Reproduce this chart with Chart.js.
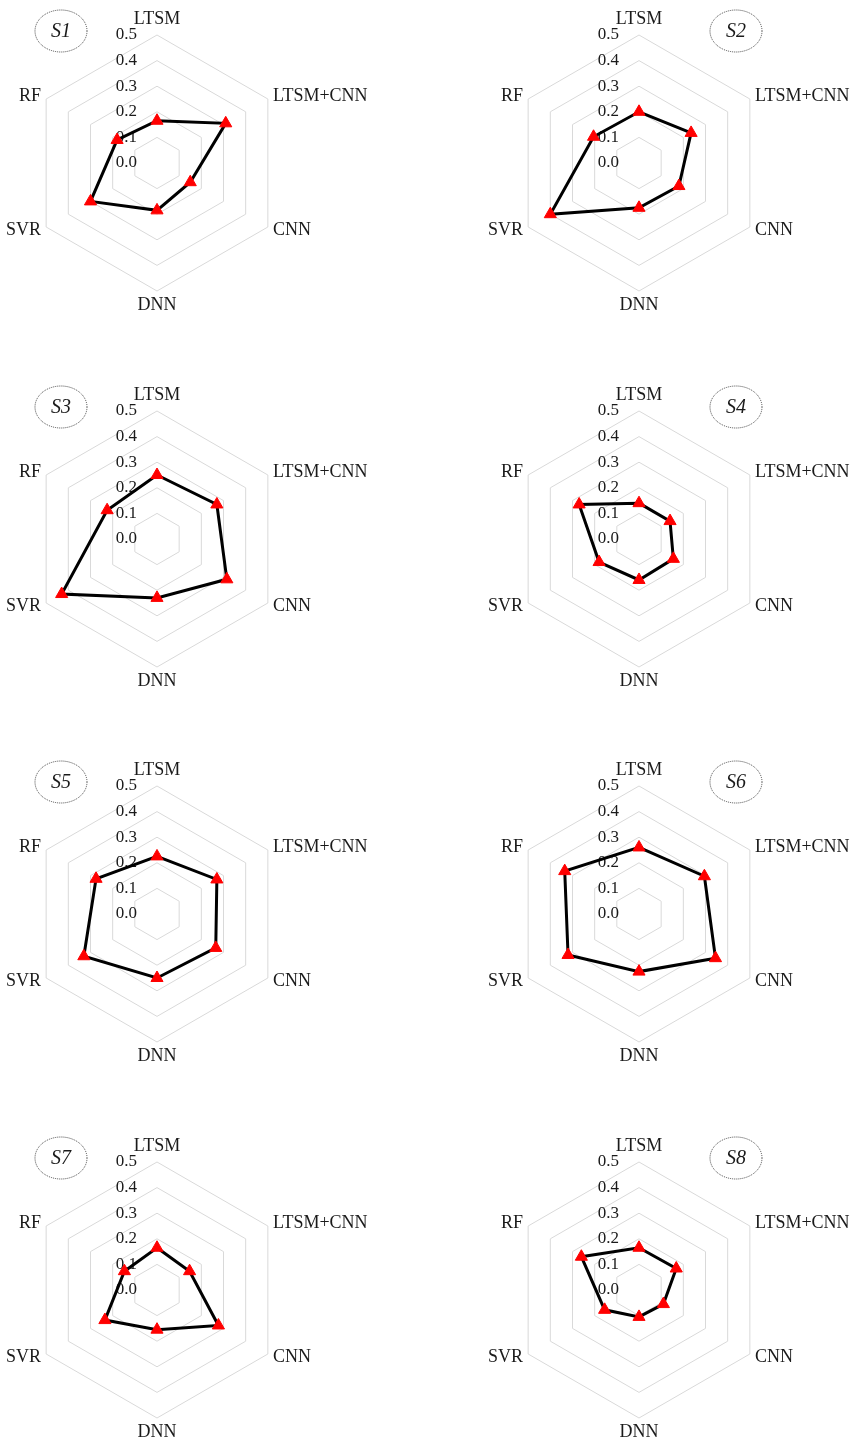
<!DOCTYPE html>
<html>
<head>
<meta charset="utf-8">
<script src="https://cdn.jsdelivr.net/npm/chart.js@4.4.1/dist/chart.umd.min.js"></script>
<style>
  html, body { margin: 0; padding: 0; background: #ffffff; }
  body { position: relative; width: 857px; height: 1444px; overflow: hidden; }
  canvas { position: absolute; }
</style>
</head>
<body>
<script>
// Model names on the six radar spokes (clockwise from the top)
const AXIS_LABELS = ['LTSM', 'LTSM+CNN', 'CNN', 'DNN', 'SVR', 'RF'];

// Radial ticks
const TICK_VALUES = [0, 0.1, 0.2, 0.3, 0.4, 0.5];
const TICK_LABELS = ['0.0', '0.1', '0.2', '0.3', '0.4', '0.5'];

// Panel names
const PANEL_NAMES = ['S1', 'S2', 'S3', 'S4', 'S5', 'S6', 'S7', 'S8'];

// Error values per model, one series per panel (order follows AXIS_LABELS)
const S1_VALUES = [0.165, 0.31, 0.15, 0.185, 0.30, 0.18];
const S2_VALUES = [0.20, 0.235, 0.18, 0.175, 0.40, 0.205];
const S3_VALUES = [0.25, 0.27, 0.315, 0.23, 0.43, 0.225];
const S4_VALUES = [0.14, 0.14, 0.155, 0.16, 0.18, 0.27];
const S5_VALUES = [0.225, 0.27, 0.265, 0.25, 0.33, 0.275];
const S6_VALUES = [0.26, 0.295, 0.345, 0.225, 0.32, 0.335];
const S7_VALUES = [0.165, 0.147, 0.277, 0.155, 0.235, 0.147];
const S8_VALUES = [0.165, 0.168, 0.11, 0.105, 0.155, 0.26];

const PANEL_VALUES = [S1_VALUES, S2_VALUES, S3_VALUES, S4_VALUES,
                      S5_VALUES, S6_VALUES, S7_VALUES, S8_VALUES];

// ---- page layout ----
const CANVAS_W = 428;
const CANVAS_H = 360;
const CENTER_Y_IN_CANVAS = 160;
const RADIUS = 128;
const BOX = RADIUS * 2 + 1;            // square that holds the radar
const ROW_CENTER_Y = [163, 539, 914, 1290];
const COL_LEFT = [0, 429];
const COL_CENTER_X = [157, 639];
const BADGE_DX = [-96, 97];            // badge offset from the radar centre
const BADGE_DY = -132;

const TEXT_COLOR = '#1a1a1a';
const SERIF = '"Liberation Serif", "Times New Roman", serif';

// Draws tick values, spoke names and the dotted name badge beneath the data line
const panelDecor = {
  id: 'panelDecor',
  beforeDatasetsDraw(chart, args, opts) {
    const s = chart.scales.r;
    const ctx = chart.ctx;
    const R = s.drawingArea;
    const cx = s.xCenter;
    const cy = s.yCenter;
    ctx.save();
    ctx.fillStyle = TEXT_COLOR;
    ctx.textBaseline = 'middle';

    // tick values, right-aligned just left of the vertical spoke
    ctx.font = '17px ' + SERIF;
    ctx.textAlign = 'right';
    TICK_VALUES.forEach((v, i) => {
      ctx.fillText(TICK_LABELS[i], cx - 20, cy - s.getDistanceFromCenterForValue(v));
    });

    // spoke names
    ctx.font = '18px ' + SERIF;
    chart.data.labels.forEach((lab, i) => {
      let extra = 6;
      let align = i < 3 ? 'left' : 'right';
      if (i === 0) { extra = 16; align = 'center'; }
      if (i === 3) { extra = 14; align = 'center'; }
      const p = s.getPointPosition(i, R + extra);
      ctx.textAlign = align;
      ctx.fillText(lab, p.x, p.y);
    });

    // dotted badge with the panel name
    const bx = cx + opts.badgeDx;
    const by = cy + BADGE_DY;
    ctx.beginPath();
    ctx.ellipse(bx, by, 26, 21, 0, 0, Math.PI * 2);
    ctx.setLineDash([1, 1]);
    ctx.lineWidth = 1;
    ctx.strokeStyle = '#444444';
    ctx.stroke();
    ctx.setLineDash([]);
    ctx.font = 'italic 20px ' + SERIF;
    ctx.textAlign = 'center';
    ctx.fillText(opts.name, bx, by + 1);
    ctx.restore();
  }
};

PANEL_VALUES.forEach((values, idx) => {
  const row = Math.floor(idx / 2);
  const col = idx % 2;
  const canvas = document.createElement('canvas');
  canvas.width = CANVAS_W;
  canvas.height = CANVAS_H;
  canvas.style.left = COL_LEFT[col] + 'px';
  canvas.style.top = (ROW_CENTER_Y[row] - CENTER_Y_IN_CANVAS) + 'px';
  canvas.style.width = CANVAS_W + 'px';
  canvas.style.height = CANVAS_H + 'px';
  document.body.appendChild(canvas);

  const padLeft = COL_CENTER_X[col] - COL_LEFT[col] - RADIUS;
  const padTop = CENTER_Y_IN_CANVAS - RADIUS;

  new Chart(canvas, {
    type: 'radar',
    data: {
      labels: AXIS_LABELS,
      datasets: [{
        data: values,
        borderColor: '#000000',
        borderWidth: 3,
        fill: false,
        tension: 0,
        pointStyle: 'triangle',
        pointRadius: 7,
        pointBackgroundColor: '#ff0000',
        pointBorderColor: '#ff0000',
        pointBorderWidth: 1
      }]
    },
    options: {
      responsive: false,
      animation: false,
      devicePixelRatio: 1,
      layout: {
        padding: {
          left: padLeft,
          right: CANVAS_W - padLeft - BOX,
          top: padTop,
          bottom: CANVAS_H - padTop - BOX
        }
      },
      plugins: {
        legend: { display: false },
        tooltip: { enabled: false },
        panelDecor: { name: PANEL_NAMES[idx], badgeDx: BADGE_DX[col] }
      },
      scales: {
        r: {
          min: 0,
          max: 0.5,
          ticks: { stepSize: 0.1, display: false },
          grid: { color: '#d9d9d9', lineWidth: 1 },
          angleLines: { display: false },
          pointLabels: { display: false }
        }
      }
    },
    plugins: [panelDecor]
  });
});
</script>
</body>
</html>
